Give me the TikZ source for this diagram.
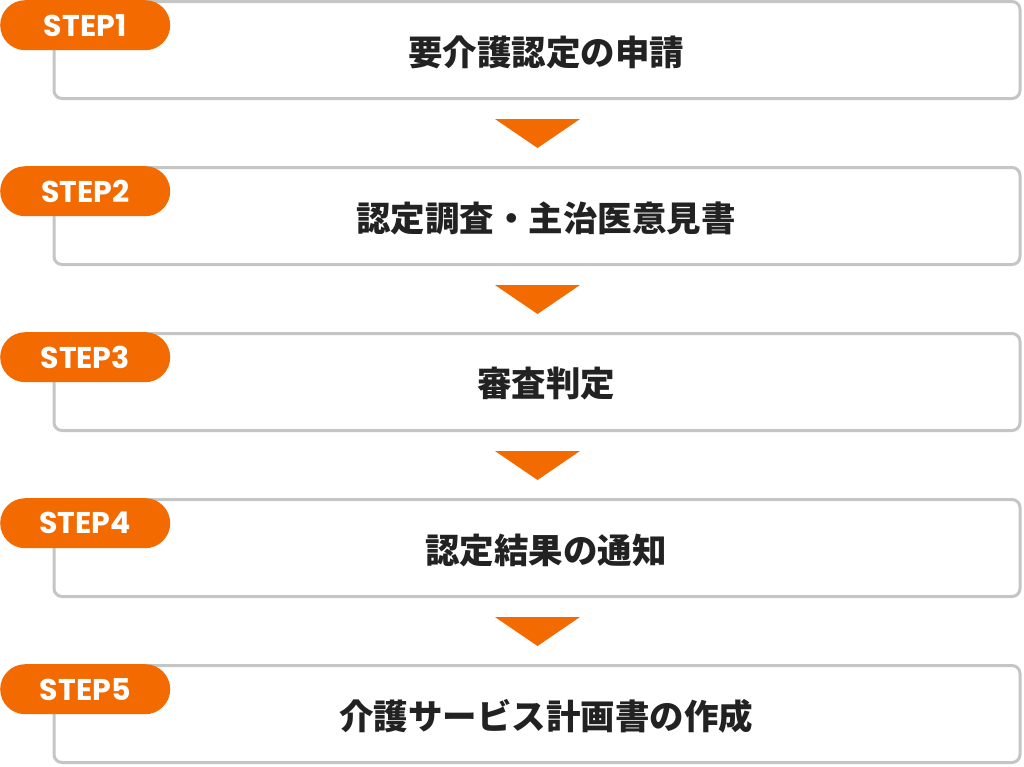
\documentclass[tikz,border=0pt]{standalone}
\usepackage{fontspec}
\newfontfamily\jp{Noto Sans CJK JP}
\newfontfamily\stepfont{Poppins}
\definecolor{orng}{HTML}{F26A00}
\definecolor{frame}{HTML}{C4C6C6}
\definecolor{ink}{HTML}{222222}
\tikzset{
  stepbox/.style={draw=frame, line width=3pt, rounded corners=8pt, fill=white,
    minimum width=966pt, minimum height=97pt, inner sep=0pt, anchor=north west},
  pill/.style={fill=orng, rounded corners=25pt, minimum width=170pt, minimum height=50pt,
    inner sep=0pt, anchor=north west, text=white, font=\stepfont\bfseries\fontsize{30}{30}\selectfont},
  label/.style={text=ink, font=\jp\bfseries\fontsize{34.5}{36}\selectfont, inner sep=0pt},
  tri/.style={fill=orng}
}
\begin{document}
\begin{tikzpicture}[x=1pt,y=-1pt]
\useasboundingbox (0,0) rectangle (1024,766);
\foreach \i/\t in {1/要介護認定の申請,2/認定調査・主治医意見書,3/審査判定,4/認定結果の通知,5/介護サービス計画書の作成}{
  \pgfmathsetmacro\top{166*(\i-1)}
  \node[stepbox] (box\i) at (52.5,\top) {};
  \node[pill] (step\i) at (0,\top) {STEP\i};
  \node[label] (txt\i) at (546,\top+52) {\t};
}
\foreach \i in {1,2,3,4}{
  \pgfmathsetmacro\top{166*(\i-1)}
  \coordinate (arr\i) at (537.5,\top+119);
  \fill[tri] (arr\i) ++(-42.5,0) -- ++(85,0) -- ++(-42.5,29) -- cycle;
}
\end{tikzpicture}
\end{document}
